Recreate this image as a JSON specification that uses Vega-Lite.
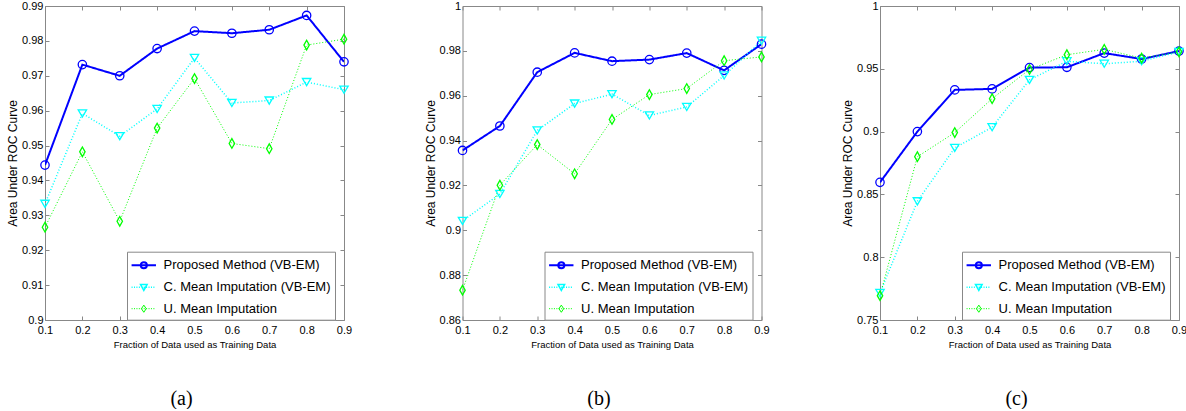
{
  "$schema": "https://vega.github.io/schema/vega-lite/v6.json",
  "padding": {"left": 6, "top": 0, "right": 0, "bottom": 0},
  "background": "white",
  "datasets": {
    "a": [
      {"x": 0.1, "series": "Proposed Method (VB-EM)", "y": 0.9444},
      {"x": 0.2, "series": "Proposed Method (VB-EM)", "y": 0.9732},
      {"x": 0.3, "series": "Proposed Method (VB-EM)", "y": 0.9700},
      {"x": 0.4, "series": "Proposed Method (VB-EM)", "y": 0.9778},
      {"x": 0.5, "series": "Proposed Method (VB-EM)", "y": 0.9828},
      {"x": 0.6, "series": "Proposed Method (VB-EM)", "y": 0.9822},
      {"x": 0.7, "series": "Proposed Method (VB-EM)", "y": 0.9832},
      {"x": 0.8, "series": "Proposed Method (VB-EM)", "y": 0.9873},
      {"x": 0.9, "series": "Proposed Method (VB-EM)", "y": 0.9740},
      {"x": 0.1, "series": "C. Mean Imputation (VB-EM)", "y": 0.9333},
      {"x": 0.2, "series": "C. Mean Imputation (VB-EM)", "y": 0.9592},
      {"x": 0.3, "series": "C. Mean Imputation (VB-EM)", "y": 0.9527},
      {"x": 0.4, "series": "C. Mean Imputation (VB-EM)", "y": 0.9605},
      {"x": 0.5, "series": "C. Mean Imputation (VB-EM)", "y": 0.9751},
      {"x": 0.6, "series": "C. Mean Imputation (VB-EM)", "y": 0.9622},
      {"x": 0.7, "series": "C. Mean Imputation (VB-EM)", "y": 0.9629},
      {"x": 0.8, "series": "C. Mean Imputation (VB-EM)", "y": 0.9682},
      {"x": 0.9, "series": "C. Mean Imputation (VB-EM)", "y": 0.9660},
      {"x": 0.1, "series": "U. Mean Imputation", "y": 0.9266},
      {"x": 0.2, "series": "U. Mean Imputation", "y": 0.9482},
      {"x": 0.3, "series": "U. Mean Imputation", "y": 0.9283},
      {"x": 0.4, "series": "U. Mean Imputation", "y": 0.9550},
      {"x": 0.5, "series": "U. Mean Imputation", "y": 0.9692},
      {"x": 0.6, "series": "U. Mean Imputation", "y": 0.9506},
      {"x": 0.7, "series": "U. Mean Imputation", "y": 0.9491},
      {"x": 0.8, "series": "U. Mean Imputation", "y": 0.9788},
      {"x": 0.9, "series": "U. Mean Imputation", "y": 0.9805}
    ],
    "b": [
      {"x": 0.1, "series": "Proposed Method (VB-EM)", "y": 0.9356},
      {"x": 0.2, "series": "Proposed Method (VB-EM)", "y": 0.9465},
      {"x": 0.3, "series": "Proposed Method (VB-EM)", "y": 0.9705},
      {"x": 0.4, "series": "Proposed Method (VB-EM)", "y": 0.9791},
      {"x": 0.5, "series": "Proposed Method (VB-EM)", "y": 0.9754},
      {"x": 0.6, "series": "Proposed Method (VB-EM)", "y": 0.9761},
      {"x": 0.7, "series": "Proposed Method (VB-EM)", "y": 0.9790},
      {"x": 0.8, "series": "Proposed Method (VB-EM)", "y": 0.9713},
      {"x": 0.9, "series": "Proposed Method (VB-EM)", "y": 0.9830},
      {"x": 0.1, "series": "C. Mean Imputation (VB-EM)", "y": 0.9042},
      {"x": 0.2, "series": "C. Mean Imputation (VB-EM)", "y": 0.9162},
      {"x": 0.3, "series": "C. Mean Imputation (VB-EM)", "y": 0.9445},
      {"x": 0.4, "series": "C. Mean Imputation (VB-EM)", "y": 0.9565},
      {"x": 0.5, "series": "C. Mean Imputation (VB-EM)", "y": 0.9607},
      {"x": 0.6, "series": "C. Mean Imputation (VB-EM)", "y": 0.9512},
      {"x": 0.7, "series": "C. Mean Imputation (VB-EM)", "y": 0.9550},
      {"x": 0.8, "series": "C. Mean Imputation (VB-EM)", "y": 0.9690},
      {"x": 0.9, "series": "C. Mean Imputation (VB-EM)", "y": 0.9845},
      {"x": 0.1, "series": "U. Mean Imputation", "y": 0.8733},
      {"x": 0.2, "series": "U. Mean Imputation", "y": 0.9201},
      {"x": 0.3, "series": "U. Mean Imputation", "y": 0.9382},
      {"x": 0.4, "series": "U. Mean Imputation", "y": 0.9252},
      {"x": 0.5, "series": "U. Mean Imputation", "y": 0.9494},
      {"x": 0.6, "series": "U. Mean Imputation", "y": 0.9605},
      {"x": 0.7, "series": "U. Mean Imputation", "y": 0.9632},
      {"x": 0.8, "series": "U. Mean Imputation", "y": 0.9756},
      {"x": 0.9, "series": "U. Mean Imputation", "y": 0.9773}
    ],
    "c": [
      {"x": 0.1, "series": "Proposed Method (VB-EM)", "y": 0.8596},
      {"x": 0.2, "series": "Proposed Method (VB-EM)", "y": 0.9000},
      {"x": 0.3, "series": "Proposed Method (VB-EM)", "y": 0.9332},
      {"x": 0.4, "series": "Proposed Method (VB-EM)", "y": 0.9340},
      {"x": 0.5, "series": "Proposed Method (VB-EM)", "y": 0.9510},
      {"x": 0.6, "series": "Proposed Method (VB-EM)", "y": 0.9512},
      {"x": 0.7, "series": "Proposed Method (VB-EM)", "y": 0.9625},
      {"x": 0.8, "series": "Proposed Method (VB-EM)", "y": 0.9578},
      {"x": 0.9, "series": "Proposed Method (VB-EM)", "y": 0.9641},
      {"x": 0.1, "series": "C. Mean Imputation (VB-EM)", "y": 0.7715},
      {"x": 0.2, "series": "C. Mean Imputation (VB-EM)", "y": 0.8445},
      {"x": 0.3, "series": "C. Mean Imputation (VB-EM)", "y": 0.8870},
      {"x": 0.4, "series": "C. Mean Imputation (VB-EM)", "y": 0.9035},
      {"x": 0.5, "series": "C. Mean Imputation (VB-EM)", "y": 0.9412},
      {"x": 0.6, "series": "C. Mean Imputation (VB-EM)", "y": 0.9560},
      {"x": 0.7, "series": "C. Mean Imputation (VB-EM)", "y": 0.9540},
      {"x": 0.8, "series": "C. Mean Imputation (VB-EM)", "y": 0.9560},
      {"x": 0.9, "series": "C. Mean Imputation (VB-EM)", "y": 0.9635},
      {"x": 0.1, "series": "U. Mean Imputation", "y": 0.7694},
      {"x": 0.2, "series": "U. Mean Imputation", "y": 0.8800},
      {"x": 0.3, "series": "U. Mean Imputation", "y": 0.8992},
      {"x": 0.4, "series": "U. Mean Imputation", "y": 0.9262},
      {"x": 0.5, "series": "U. Mean Imputation", "y": 0.9495},
      {"x": 0.6, "series": "U. Mean Imputation", "y": 0.9612},
      {"x": 0.7, "series": "U. Mean Imputation", "y": 0.9655},
      {"x": 0.8, "series": "U. Mean Imputation", "y": 0.9585},
      {"x": 0.9, "series": "U. Mean Imputation", "y": 0.9635}
    ]
  },
  "spacing": 118.5,
  "bounds": "flush",
  "hconcat": [
    {
      "width": 299, "height": 314,
      "data": {"name": "a"},
      "title": {"text": "(a)", "orient": "bottom", "anchor": "middle", "frame": "group", "dx": -13, "offset": 40, "font": "Liberation Serif", "fontSize": 20, "fontWeight": "normal", "color": "#000000"},
      "layer": [
        {
          "mark": {"type": "line", "clip": true},
          "encoding": {
            "x": {"field": "x", "type": "quantitative", "scale": {"domain": [0.1, 0.9], "nice": false, "zero": false}, "axis": {"orient": "bottom", "values": [0.1, 0.2, 0.3, 0.4, 0.5, 0.6, 0.7, 0.8, 0.9], "format": ".1~f", "title": "Fraction of Data used as Training Data"}},
            "y": {"field": "y", "type": "quantitative", "scale": {"domain": [0.9, 0.99], "nice": false, "zero": false}, "axis": {"orient": "left", "values": [0.9, 0.91, 0.92, 0.93, 0.94, 0.95, 0.96, 0.97, 0.98, 0.99], "format": ".2~f", "title": "Area Under ROC Curve"}},
            "color": {"field": "series", "type": "nominal", "scale": {"domain": ["Proposed Method (VB-EM)", "C. Mean Imputation (VB-EM)", "U. Mean Imputation"], "range": ["#0000ff", "#00ffff", "#00ff00"]}, "legend": {"title": null, "orient": "none", "legendX": 82, "legendY": 245.7, "direction": "vertical", "symbolSize": 289, "labelFont": "Liberation Sans", "labelFontSize": 13, "labelColor": "#000000", "labelOffset": 13.6, "labelLimit": 400, "labelExpr": "datum.label + '  '", "padding": 4, "rowPadding": 5, "strokeColor": "#888888", "fillColor": "#ffffff", "symbolStrokeWidth": 1.2, "encoding": {"symbols": {"shape": {"value": {"expr": "datum.value === 'Proposed Method (VB-EM)' ? 'M-1.05,0H1.82M0.03,0A0.36,0.36 0 1,0 0.75,0A0.36,0.36 0 1,0 0.03,0' : (datum.value === 'C. Mean Imputation (VB-EM)' ? 'M-1.05,0h0.12m0.165,0h0.12m0.165,0h0.12m0.165,0h0.12m0.165,0h0.12m0.165,0h0.12m0.165,0h0.12m0.165,0h0.12m0.165,0h0.12m0.165,0h0.12M0,-0.33H0.78L0.39,0.38Z' : 'M-1.05,0h0.12m0.165,0h0.12m0.165,0h0.12m0.165,0h0.12m0.165,0h0.12m0.165,0h0.12m0.165,0h0.12m0.165,0h0.12m0.165,0h0.12m0.165,0h0.12M0.39,-0.42L0.67,0L0.39,0.42L0.11,0Z')"}}, "fill": {"value": "transparent"}}}}},
            "strokeDash": {"field": "series", "type": "nominal", "scale": {"domain": ["U. Mean Imputation", "C. Mean Imputation (VB-EM)", "Proposed Method (VB-EM)"], "range": [[1, 2], [1, 2], [1, 0]]}, "legend": null},
            "strokeWidth": {"field": "series", "type": "ordinal", "scale": {"domain": ["Proposed Method (VB-EM)", "C. Mean Imputation (VB-EM)", "U. Mean Imputation"], "range": [2, 1, 1]}, "legend": null}
          }
        },
        {
          "mark": {"type": "point", "filled": false, "size": 70, "strokeWidth": 1.3, "opacity": 1},
          "encoding": {
            "x": {"field": "x", "type": "quantitative", "scale": {"domain": [0.1, 0.9], "nice": false, "zero": false}, "axis": {"orient": "top", "values": [0.1, 0.2, 0.3, 0.4, 0.5, 0.6, 0.7, 0.8, 0.9], "labels": false, "title": null}},
            "y": {"field": "y", "type": "quantitative", "scale": {"domain": [0.9, 0.99], "nice": false, "zero": false}, "axis": {"orient": "right", "values": [0.9, 0.91, 0.92, 0.93, 0.94, 0.95, 0.96, 0.97, 0.98, 0.99], "labels": false, "title": null}},
            "color": {"field": "series", "type": "nominal", "scale": {"domain": ["Proposed Method (VB-EM)", "C. Mean Imputation (VB-EM)", "U. Mean Imputation"], "range": ["#0000ff", "#00ffff", "#00ff00"]}, "legend": {"title": null, "orient": "none", "legendX": 82, "legendY": 245.7, "direction": "vertical", "symbolSize": 289, "labelFont": "Liberation Sans", "labelFontSize": 13, "labelColor": "#000000", "labelOffset": 13.6, "labelLimit": 400, "labelExpr": "datum.label + '  '", "padding": 4, "rowPadding": 5, "strokeColor": "#888888", "fillColor": "#ffffff", "symbolStrokeWidth": 1.2, "encoding": {"symbols": {"shape": {"value": {"expr": "datum.value === 'Proposed Method (VB-EM)' ? 'M-1.05,0H1.82M0.03,0A0.36,0.36 0 1,0 0.75,0A0.36,0.36 0 1,0 0.03,0' : (datum.value === 'C. Mean Imputation (VB-EM)' ? 'M-1.05,0h0.12m0.165,0h0.12m0.165,0h0.12m0.165,0h0.12m0.165,0h0.12m0.165,0h0.12m0.165,0h0.12m0.165,0h0.12m0.165,0h0.12m0.165,0h0.12M0,-0.33H0.78L0.39,0.38Z' : 'M-1.05,0h0.12m0.165,0h0.12m0.165,0h0.12m0.165,0h0.12m0.165,0h0.12m0.165,0h0.12m0.165,0h0.12m0.165,0h0.12m0.165,0h0.12m0.165,0h0.12M0.39,-0.42L0.67,0L0.39,0.42L0.11,0Z')"}}, "fill": {"value": "transparent"}}}}},
            "shape": {"field": "series", "type": "nominal", "scale": {"domain": ["C. Mean Imputation (VB-EM)", "Proposed Method (VB-EM)", "U. Mean Imputation"], "range": ["M-1,-0.85L1,-0.85L0,0.85Z", "circle", "M0,-1.15L0.65,0L0,1.15L-0.65,0Z"]}, "legend": null}
          }
        }
      ],
      "resolve": {"axis": {"x": "independent", "y": "independent"}}
    },
    {
      "width": 299, "height": 314,
      "data": {"name": "b"},
      "title": {"text": "(b)", "orient": "bottom", "anchor": "middle", "frame": "group", "dx": -13, "offset": 40, "font": "Liberation Serif", "fontSize": 20, "fontWeight": "normal", "color": "#000000"},
      "layer": [
        {
          "mark": {"type": "line", "clip": true},
          "encoding": {
            "x": {"field": "x", "type": "quantitative", "scale": {"domain": [0.1, 0.9], "nice": false, "zero": false}, "axis": {"orient": "bottom", "values": [0.1, 0.2, 0.3, 0.4, 0.5, 0.6, 0.7, 0.8, 0.9], "format": ".1~f", "title": "Fraction of Data used as Training Data"}},
            "y": {"field": "y", "type": "quantitative", "scale": {"domain": [0.86, 1.0], "nice": false, "zero": false}, "axis": {"orient": "left", "values": [0.86, 0.88, 0.9, 0.92, 0.94, 0.96, 0.98, 1.0], "format": ".2~f", "title": "Area Under ROC Curve"}},
            "color": {"field": "series", "type": "nominal", "scale": {"domain": ["Proposed Method (VB-EM)", "C. Mean Imputation (VB-EM)", "U. Mean Imputation"], "range": ["#0000ff", "#00ffff", "#00ff00"]}, "legend": {"title": null, "orient": "none", "legendX": 82, "legendY": 245.7, "direction": "vertical", "symbolSize": 289, "labelFont": "Liberation Sans", "labelFontSize": 13, "labelColor": "#000000", "labelOffset": 13.6, "labelLimit": 400, "labelExpr": "datum.label + '  '", "padding": 4, "rowPadding": 5, "strokeColor": "#888888", "fillColor": "#ffffff", "symbolStrokeWidth": 1.2, "encoding": {"symbols": {"shape": {"value": {"expr": "datum.value === 'Proposed Method (VB-EM)' ? 'M-1.05,0H1.82M0.03,0A0.36,0.36 0 1,0 0.75,0A0.36,0.36 0 1,0 0.03,0' : (datum.value === 'C. Mean Imputation (VB-EM)' ? 'M-1.05,0h0.12m0.165,0h0.12m0.165,0h0.12m0.165,0h0.12m0.165,0h0.12m0.165,0h0.12m0.165,0h0.12m0.165,0h0.12m0.165,0h0.12m0.165,0h0.12M0,-0.33H0.78L0.39,0.38Z' : 'M-1.05,0h0.12m0.165,0h0.12m0.165,0h0.12m0.165,0h0.12m0.165,0h0.12m0.165,0h0.12m0.165,0h0.12m0.165,0h0.12m0.165,0h0.12m0.165,0h0.12M0.39,-0.42L0.67,0L0.39,0.42L0.11,0Z')"}}, "fill": {"value": "transparent"}}}}},
            "strokeDash": {"field": "series", "type": "nominal", "scale": {"domain": ["U. Mean Imputation", "C. Mean Imputation (VB-EM)", "Proposed Method (VB-EM)"], "range": [[1, 2], [1, 2], [1, 0]]}, "legend": null},
            "strokeWidth": {"field": "series", "type": "ordinal", "scale": {"domain": ["Proposed Method (VB-EM)", "C. Mean Imputation (VB-EM)", "U. Mean Imputation"], "range": [2, 1, 1]}, "legend": null}
          }
        },
        {
          "mark": {"type": "point", "filled": false, "size": 70, "strokeWidth": 1.3, "opacity": 1},
          "encoding": {
            "x": {"field": "x", "type": "quantitative", "scale": {"domain": [0.1, 0.9], "nice": false, "zero": false}, "axis": {"orient": "top", "values": [0.1, 0.2, 0.3, 0.4, 0.5, 0.6, 0.7, 0.8, 0.9], "labels": false, "title": null}},
            "y": {"field": "y", "type": "quantitative", "scale": {"domain": [0.86, 1.0], "nice": false, "zero": false}, "axis": {"orient": "right", "values": [0.86, 0.88, 0.9, 0.92, 0.94, 0.96, 0.98, 1.0], "labels": false, "title": null}},
            "color": {"field": "series", "type": "nominal", "scale": {"domain": ["Proposed Method (VB-EM)", "C. Mean Imputation (VB-EM)", "U. Mean Imputation"], "range": ["#0000ff", "#00ffff", "#00ff00"]}, "legend": {"title": null, "orient": "none", "legendX": 82, "legendY": 245.7, "direction": "vertical", "symbolSize": 289, "labelFont": "Liberation Sans", "labelFontSize": 13, "labelColor": "#000000", "labelOffset": 13.6, "labelLimit": 400, "labelExpr": "datum.label + '  '", "padding": 4, "rowPadding": 5, "strokeColor": "#888888", "fillColor": "#ffffff", "symbolStrokeWidth": 1.2, "encoding": {"symbols": {"shape": {"value": {"expr": "datum.value === 'Proposed Method (VB-EM)' ? 'M-1.05,0H1.82M0.03,0A0.36,0.36 0 1,0 0.75,0A0.36,0.36 0 1,0 0.03,0' : (datum.value === 'C. Mean Imputation (VB-EM)' ? 'M-1.05,0h0.12m0.165,0h0.12m0.165,0h0.12m0.165,0h0.12m0.165,0h0.12m0.165,0h0.12m0.165,0h0.12m0.165,0h0.12m0.165,0h0.12m0.165,0h0.12M0,-0.33H0.78L0.39,0.38Z' : 'M-1.05,0h0.12m0.165,0h0.12m0.165,0h0.12m0.165,0h0.12m0.165,0h0.12m0.165,0h0.12m0.165,0h0.12m0.165,0h0.12m0.165,0h0.12m0.165,0h0.12M0.39,-0.42L0.67,0L0.39,0.42L0.11,0Z')"}}, "fill": {"value": "transparent"}}}}},
            "shape": {"field": "series", "type": "nominal", "scale": {"domain": ["C. Mean Imputation (VB-EM)", "Proposed Method (VB-EM)", "U. Mean Imputation"], "range": ["M-1,-0.85L1,-0.85L0,0.85Z", "circle", "M0,-1.15L0.65,0L0,1.15L-0.65,0Z"]}, "legend": null}
          }
        }
      ],
      "resolve": {"axis": {"x": "independent", "y": "independent"}}
    },
    {
      "width": 299, "height": 314,
      "data": {"name": "c"},
      "title": {"text": "(c)", "orient": "bottom", "anchor": "middle", "frame": "group", "dx": -13, "offset": 40, "font": "Liberation Serif", "fontSize": 20, "fontWeight": "normal", "color": "#000000"},
      "layer": [
        {
          "mark": {"type": "line", "clip": true},
          "encoding": {
            "x": {"field": "x", "type": "quantitative", "scale": {"domain": [0.1, 0.9], "nice": false, "zero": false}, "axis": {"orient": "bottom", "values": [0.1, 0.2, 0.3, 0.4, 0.5, 0.6, 0.7, 0.8, 0.9], "format": ".1~f", "title": "Fraction of Data used as Training Data"}},
            "y": {"field": "y", "type": "quantitative", "scale": {"domain": [0.75, 1.0], "nice": false, "zero": false}, "axis": {"orient": "left", "values": [0.75, 0.8, 0.85, 0.9, 0.95, 1.0], "format": ".2~f", "title": "Area Under ROC Curve"}},
            "color": {"field": "series", "type": "nominal", "scale": {"domain": ["Proposed Method (VB-EM)", "C. Mean Imputation (VB-EM)", "U. Mean Imputation"], "range": ["#0000ff", "#00ffff", "#00ff00"]}, "legend": {"title": null, "orient": "none", "legendX": 82, "legendY": 245.7, "direction": "vertical", "symbolSize": 289, "labelFont": "Liberation Sans", "labelFontSize": 13, "labelColor": "#000000", "labelOffset": 13.6, "labelLimit": 400, "labelExpr": "datum.label + '  '", "padding": 4, "rowPadding": 5, "strokeColor": "#888888", "fillColor": "#ffffff", "symbolStrokeWidth": 1.2, "encoding": {"symbols": {"shape": {"value": {"expr": "datum.value === 'Proposed Method (VB-EM)' ? 'M-1.05,0H1.82M0.03,0A0.36,0.36 0 1,0 0.75,0A0.36,0.36 0 1,0 0.03,0' : (datum.value === 'C. Mean Imputation (VB-EM)' ? 'M-1.05,0h0.12m0.165,0h0.12m0.165,0h0.12m0.165,0h0.12m0.165,0h0.12m0.165,0h0.12m0.165,0h0.12m0.165,0h0.12m0.165,0h0.12m0.165,0h0.12M0,-0.33H0.78L0.39,0.38Z' : 'M-1.05,0h0.12m0.165,0h0.12m0.165,0h0.12m0.165,0h0.12m0.165,0h0.12m0.165,0h0.12m0.165,0h0.12m0.165,0h0.12m0.165,0h0.12m0.165,0h0.12M0.39,-0.42L0.67,0L0.39,0.42L0.11,0Z')"}}, "fill": {"value": "transparent"}}}}},
            "strokeDash": {"field": "series", "type": "nominal", "scale": {"domain": ["U. Mean Imputation", "C. Mean Imputation (VB-EM)", "Proposed Method (VB-EM)"], "range": [[1, 2], [1, 2], [1, 0]]}, "legend": null},
            "strokeWidth": {"field": "series", "type": "ordinal", "scale": {"domain": ["Proposed Method (VB-EM)", "C. Mean Imputation (VB-EM)", "U. Mean Imputation"], "range": [2, 1, 1]}, "legend": null}
          }
        },
        {
          "mark": {"type": "point", "filled": false, "size": 70, "strokeWidth": 1.3, "opacity": 1},
          "encoding": {
            "x": {"field": "x", "type": "quantitative", "scale": {"domain": [0.1, 0.9], "nice": false, "zero": false}, "axis": {"orient": "top", "values": [0.1, 0.2, 0.3, 0.4, 0.5, 0.6, 0.7, 0.8, 0.9], "labels": false, "title": null}},
            "y": {"field": "y", "type": "quantitative", "scale": {"domain": [0.75, 1.0], "nice": false, "zero": false}, "axis": {"orient": "right", "values": [0.75, 0.8, 0.85, 0.9, 0.95, 1.0], "labels": false, "title": null}},
            "color": {"field": "series", "type": "nominal", "scale": {"domain": ["Proposed Method (VB-EM)", "C. Mean Imputation (VB-EM)", "U. Mean Imputation"], "range": ["#0000ff", "#00ffff", "#00ff00"]}, "legend": {"title": null, "orient": "none", "legendX": 82, "legendY": 245.7, "direction": "vertical", "symbolSize": 289, "labelFont": "Liberation Sans", "labelFontSize": 13, "labelColor": "#000000", "labelOffset": 13.6, "labelLimit": 400, "labelExpr": "datum.label + '  '", "padding": 4, "rowPadding": 5, "strokeColor": "#888888", "fillColor": "#ffffff", "symbolStrokeWidth": 1.2, "encoding": {"symbols": {"shape": {"value": {"expr": "datum.value === 'Proposed Method (VB-EM)' ? 'M-1.05,0H1.82M0.03,0A0.36,0.36 0 1,0 0.75,0A0.36,0.36 0 1,0 0.03,0' : (datum.value === 'C. Mean Imputation (VB-EM)' ? 'M-1.05,0h0.12m0.165,0h0.12m0.165,0h0.12m0.165,0h0.12m0.165,0h0.12m0.165,0h0.12m0.165,0h0.12m0.165,0h0.12m0.165,0h0.12m0.165,0h0.12M0,-0.33H0.78L0.39,0.38Z' : 'M-1.05,0h0.12m0.165,0h0.12m0.165,0h0.12m0.165,0h0.12m0.165,0h0.12m0.165,0h0.12m0.165,0h0.12m0.165,0h0.12m0.165,0h0.12m0.165,0h0.12M0.39,-0.42L0.67,0L0.39,0.42L0.11,0Z')"}}, "fill": {"value": "transparent"}}}}},
            "shape": {"field": "series", "type": "nominal", "scale": {"domain": ["C. Mean Imputation (VB-EM)", "Proposed Method (VB-EM)", "U. Mean Imputation"], "range": ["M-1,-0.85L1,-0.85L0,0.85Z", "circle", "M0,-1.15L0.65,0L0,1.15L-0.65,0Z"]}, "legend": null}
          }
        }
      ],
      "resolve": {"axis": {"x": "independent", "y": "independent"}}
    }
  ],
  "resolve": {
    "scale": {"x": "independent", "y": "independent", "color": "independent", "shape": "independent", "strokeDash": "independent", "strokeWidth": "independent"},
    "legend": {"color": "independent"}
  },
  "config": {
    "view": {"stroke": null},
    "axis": {"labelFont": "Liberation Sans", "labelFontSize": 11, "labelColor": "#000000", "titleFont": "Liberation Sans", "titleFontSize": 12, "titleFontWeight": "normal", "titleColor": "#000000", "domainColor": "#888888", "tickColor": "#888888", "tickSize": -4, "grid": false, "labelFlush": false, "labelOverlap": false},
    "axisX": {"titleFontSize": 9.5, "titlePadding": 4, "labelPadding": 8},
    "axisY": {"titlePadding": 2, "labelPadding": 6}
  }
}
